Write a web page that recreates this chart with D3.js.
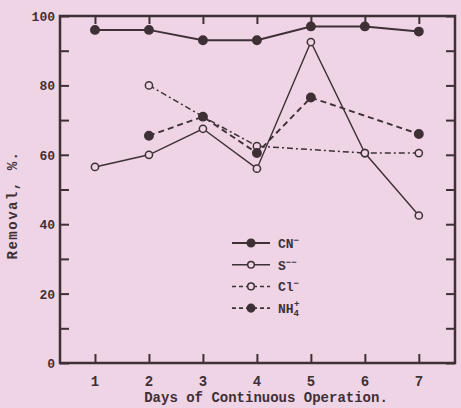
<!DOCTYPE html>
<html>
<head>
<meta charset="utf-8">
<script src="https://cdn.jsdelivr.net/npm/d3@7"></script>
<style>
  body { margin: 0; background: #efd4e6; }
  svg { display: block; }
</style>
</head>
<body>
<div id="chart"></div>
<script>
// data
const days = [1, 2, 3, 4, 5, 6, 7];
const cnValues = [96, 96, 93, 93, 97, 97, 95.5];
const sValues = [56.5, 60, 67.5, 56, 92.5, 60.5, 42.5];
const clDays = [2, 3, 4, 6, 7];
const clValues = [80, 71, 62.5, 60.5, 60.5];
const nhDays = [2, 3, 4, 5, 7];
const nhValues = [65.5, 71, 60.5, 76.5, 66];
const yTicks = [0, 20, 40, 60, 80, 100];
const yMinor = [10, 30, 50, 70, 90];

const width = 461, height = 408;
const ink = "#3f3036";
const paper = "#efd4e6";

const svg = d3.select("#chart")
  .append("svg")
  .attr("width", width)
  .attr("height", height);

const x = d3.scaleLinear().domain([0.352, 7.67]).range([60, 455]);
const y = d3.scaleLinear().domain([0, 100]).range([363, 16]);

const series = [
  { name: "CN", days: days, values: cnValues, filled: true, dash: null, width: 2 },
  { name: "S", days: days, values: sValues, filled: false, dash: null, width: 1.4 },
  { name: "Cl", days: clDays, values: clValues, filled: false, dash: "6,3,2,3", width: 1.5 },
  { name: "NH", days: nhDays, values: nhValues, filled: true, dash: "6,4", width: 1.9 }
];

// frame
svg.append("rect")
  .attr("x", x.range()[0]).attr("y", y.range()[1])
  .attr("width", x.range()[1] - x.range()[0])
  .attr("height", y.range()[0] - y.range()[1])
  .attr("fill", "none")
  .attr("stroke", ink)
  .attr("stroke-width", 2.5);

// axes, ticks pointing inward
const font = "'Liberation Mono', 'DejaVu Sans Mono', monospace";

const axBottom = svg.append("g")
  .attr("transform", `translate(0,${y(0)})`)
  .call(d3.axisTop(x).tickValues(days).tickSize(9).tickFormat(""));
const axTop = svg.append("g")
  .attr("transform", `translate(0,${y(100)})`)
  .call(d3.axisBottom(x).tickValues(days).tickSize(8).tickFormat(""));
const axLeft = svg.append("g")
  .attr("transform", `translate(${x.range()[0]},0)`)
  .call(d3.axisRight(y).tickValues(yTicks.concat(yMinor)).tickSize(9).tickFormat(""));
const axRight = svg.append("g")
  .attr("transform", `translate(${x.range()[1]},0)`)
  .call(d3.axisLeft(y).tickValues(yTicks.concat(yMinor)).tickSize(9).tickFormat(""));

[axBottom, axTop, axLeft, axRight].forEach(g => {
  g.select(".domain").remove();
  g.selectAll("line").attr("stroke", ink).attr("stroke-width", 2);
});

// tick labels
svg.selectAll(".xlab")
  .data(days)
  .enter().append("text")
  .attr("x", d => x(d))
  .attr("y", 386)
  .attr("text-anchor", "middle")
  .attr("font-family", font)
  .attr("font-size", 14)
  .attr("font-weight", "bold")
  .attr("fill", ink)
  .text(d => d);

svg.selectAll(".ylab")
  .data(yTicks)
  .enter().append("text")
  .attr("x", 55)
  .attr("y", d => y(d) + 5)
  .attr("text-anchor", "end")
  .attr("font-family", font)
  .attr("font-size", 13)
  .attr("font-weight", "bold")
  .attr("fill", ink)
  .text(d => d);

svg.append("text")
  .attr("x", 266)
  .attr("y", 402)
  .attr("text-anchor", "middle")
  .attr("font-family", font)
  .attr("font-size", 14)
  .attr("font-weight", "bold")
  .attr("fill", ink)
  .text("Days of Continuous Operation.");

svg.append("text")
  .attr("transform", `translate(17,205) rotate(-90)`)
  .attr("text-anchor", "middle")
  .attr("font-family", font)
  .attr("font-size", 14)
  .attr("letter-spacing", 1.5)
  .attr("font-weight", "bold")
  .attr("fill", ink)
  .text("Removal, %.");

// lines and markers
const line = d3.line().x(d => x(d[0])).y(d => y(d[1]));

series.forEach(s => {
  const pts = s.days.map((d, i) => [d, s.values[i]]);
  svg.append("path")
    .datum(pts)
    .attr("d", line)
    .attr("fill", "none")
    .attr("stroke", ink)
    .attr("stroke-width", s.width)
    .attr("stroke-dasharray", s.dash);
  svg.selectAll(null)
    .data(pts)
    .enter().append("circle")
    .attr("cx", d => x(d[0]))
    .attr("cy", d => y(d[1]))
    .attr("r", s.filled ? 4.2 : 3.6)
    .attr("fill", s.filled ? ink : paper)
    .attr("stroke", ink)
    .attr("stroke-width", 1.5);
});

// legend
const legendRows = [
  { s: series[0], label: "CN", sup: "\u2212" },
  { s: series[1], label: "S", sup: "\u2212\u2212" },
  { s: series[2], label: "Cl", sup: "\u2212" },
  { s: series[3], label: "NH", sub: "4", sup: "+" }
];
const legend = svg.append("g").attr("transform", "translate(232,243)");
legendRows.forEach((r, i) => {
  const g = legend.append("g").attr("transform", `translate(0,${i * 21.7})`);
  g.append("line")
    .attr("x1", 0).attr("x2", 38)
    .attr("stroke", ink)
    .attr("stroke-width", r.s.width)
    .attr("stroke-dasharray", r.s.dash ? "4,3" : null);
  g.append("circle")
    .attr("cx", 19).attr("cy", 0)
    .attr("r", r.s.filled ? 3.8 : 3.3)
    .attr("fill", r.s.filled ? ink : paper)
    .attr("stroke", ink)
    .attr("stroke-width", 1.5);
  const t = g.append("text")
    .attr("x", 46).attr("y", 5)
    .attr("font-family", font)
    .attr("font-size", 13)
    .attr("font-weight", "bold")
    .attr("fill", ink)
    .text(r.label);
  if (r.sub) t.append("tspan").attr("font-size", 9).attr("dy", 3).text(r.sub);
  t.append("tspan").attr("font-size", 9).attr("dy", r.sub ? -9 : -5).attr("dx", r.sub ? -5 : 0).text(r.sup);
});
</script>
</body>
</html>
